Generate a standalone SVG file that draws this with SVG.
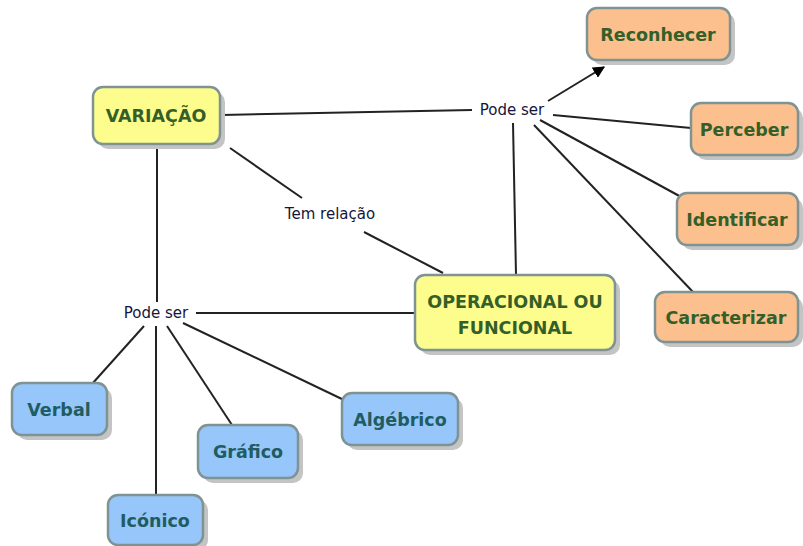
<svg xmlns="http://www.w3.org/2000/svg" width="803" height="546" viewBox="0 0 803 546">
<style>
.box{stroke:#7f9394;stroke-width:2.5}
.sh{fill:#c4c4c4}
.y{fill:#fdfd8e}
.o{fill:#fcc08e}
.b{fill:#96c6fa}
.t{font-family:"DejaVu Sans","Noto Sans",sans-serif;font-size:17.5px;font-weight:bold;text-anchor:middle}
.tg{fill:#355f28}
.tb{fill:#205c62}
.lab{font-family:"DejaVu Sans","Noto Sans",sans-serif;font-size:15px;fill:#15163a;text-anchor:middle}
.c line{stroke:#222;stroke-width:2}
</style>
<defs>
<marker id="ah" viewBox="0 0 10 10" refX="9" refY="5" markerWidth="6" markerHeight="6" orient="auto" markerUnits="strokeWidth">
<path d="M0,0 L10,5 L0,10 z" fill="#000"/>
</marker>
</defs>
<rect width="803" height="546" fill="#fff"/>
<g class="c">
<line x1="222" y1="115" x2="472" y2="110"/>
<line x1="548" y1="101" x2="604" y2="67" marker-end="url(#ah)"/>
<line x1="553" y1="115" x2="691" y2="128"/>
<line x1="540" y1="120" x2="683" y2="198"/>
<line x1="534" y1="125" x2="693" y2="292"/>
<line x1="516" y1="275" x2="513" y2="123"/>
<line x1="230" y1="148" x2="302" y2="198"/>
<line x1="364" y1="232" x2="443" y2="273"/>
<line x1="157" y1="146" x2="157" y2="302"/>
<line x1="196" y1="313" x2="415" y2="313"/>
<line x1="144" y1="326" x2="92" y2="384"/>
<line x1="156" y1="326" x2="156" y2="495"/>
<line x1="167" y1="326" x2="232" y2="425"/>
<line x1="183" y1="323" x2="344" y2="400"/>
</g>
<g id="variacao"><rect class="sh" x="98" y="92" width="127" height="57" rx="10"/><rect class="box y" x="93" y="87" width="127" height="57" rx="10"/><text class="t tg" x="156" y="122">VARIAÇÃO</text></g>
<g id="operacional"><rect class="sh" x="420" y="280" width="200" height="75" rx="10"/><rect class="box y" x="415" y="275" width="200" height="75" rx="10"/><text class="t tg" x="515" y="308">OPERACIONAL OU</text><text class="t tg" x="515" y="334">FUNCIONAL</text></g>
<g id="reconhecer"><rect class="sh" x="592" y="13" width="143" height="52" rx="10"/><rect class="box o" x="587" y="8" width="143" height="52" rx="10"/><text class="t tg" x="658" y="41">Reconhecer</text></g>
<g id="perceber"><rect class="sh" x="696" y="108" width="107" height="52" rx="10"/><rect class="box o" x="691" y="103" width="107" height="52" rx="10"/><text class="t tg" x="744" y="136">Perceber</text></g>
<g id="identificar"><rect class="sh" x="682" y="198" width="121" height="52" rx="10"/><rect class="box o" x="677" y="193" width="121" height="52" rx="10"/><text class="t tg" x="737" y="226">Identificar</text></g>
<g id="caracterizar"><rect class="sh" x="660" y="297" width="143" height="50" rx="10"/><rect class="box o" x="655" y="292" width="143" height="50" rx="10"/><text class="t tg" x="726" y="324">Caracterizar</text></g>
<g id="verbal"><rect class="sh" x="17" y="388" width="95" height="52" rx="10"/><rect class="box b" x="12" y="383" width="95" height="52" rx="10"/><text class="t tb" x="59" y="416">Verbal</text></g>
<g id="grafico"><rect class="sh" x="203" y="430" width="100" height="53" rx="10"/><rect class="box b" x="198" y="425" width="100" height="53" rx="10"/><text class="t tb" x="248" y="458">Gráfico</text></g>
<g id="algebrico"><rect class="sh" x="347" y="398" width="116" height="52" rx="10"/><rect class="box b" x="342" y="393" width="116" height="52" rx="10"/><text class="t tb" x="400" y="426">Algébrico</text></g>
<g id="iconico"><rect class="sh" x="113" y="500" width="95" height="50" rx="10"/><rect class="box b" x="108" y="495" width="95" height="50" rx="10"/><text class="t tb" x="155" y="527">Icónico</text></g>
<g id="lbl-pode1"><text class="lab" x="512" y="115">Pode ser</text></g>
<g id="lbl-tem"><text class="lab" x="330" y="219">Tem relação</text></g>
<g id="lbl-pode2"><text class="lab" x="156" y="318">Pode ser</text></g>
</svg>
